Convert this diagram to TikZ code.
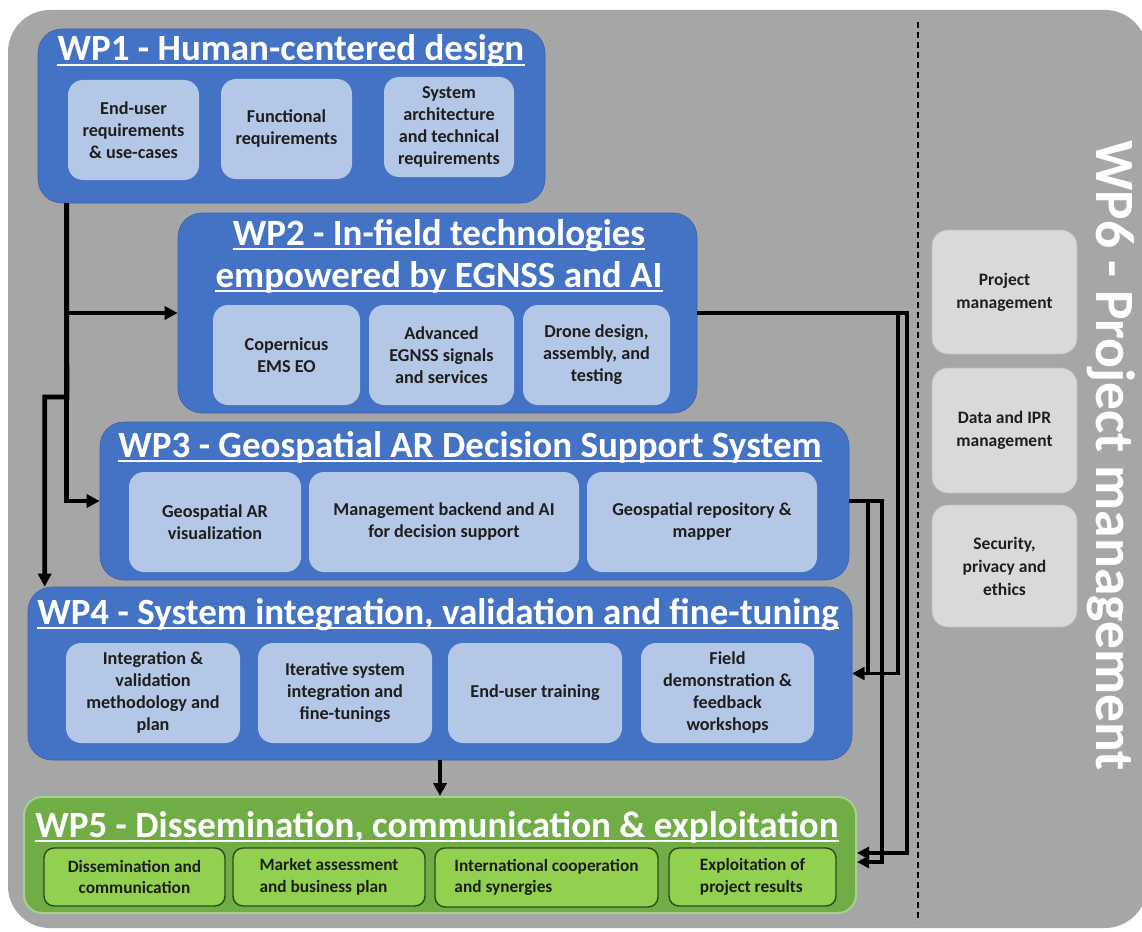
\documentclass[tikz,border=0pt]{standalone}
\usepackage{fontspec}
\setmainfont{Carlito}
\usetikzlibrary{arrows.meta}
\definecolor{bggray}{HTML}{A6A6A6}
\definecolor{wpblue}{HTML}{4472C4}
\definecolor{subblue}{HTML}{B4C7E7}
\definecolor{pmgray}{HTML}{D9D9D9}
\definecolor{pmborder}{HTML}{BFBFBF}
\definecolor{wpgreen}{HTML}{70AD47}
\definecolor{greenborder}{HTML}{A9D18E}
\definecolor{subgreen}{HTML}{92D050}
\definecolor{darkgreen}{HTML}{2E4A1C}
\definecolor{txt}{HTML}{1E1E1E}
\newcommand\mkbox[7]{\node[#6, minimum width={#4-#2}, minimum height={#5-#3}] (#1) at ({(#2+#4)/2},{(#3+#5)/2}) {#7};}
\begin{document}
\begin{tikzpicture}[x=1pt,y=-1pt,
  wpbox/.style={rectangle, rounded corners=24pt, fill=wpblue, draw=wpblue!85!black, line width=0.6pt, inner sep=0pt},
  subbox/.style={rectangle, rounded corners=15pt, fill=subblue, inner sep=2pt, align=center, text=txt, font=\bfseries\fontsize{18.2}{22}\selectfont},
  pmbox/.style={rectangle, rounded corners=16pt, fill=pmgray, draw=pmborder, line width=0.6pt, inner sep=2pt, align=center, text=txt, font=\bfseries\fontsize{17.5}{23}\selectfont},
  greenbox/.style={rectangle, rounded corners=18pt, fill=wpgreen, draw=greenborder, line width=2pt, inner sep=0pt},
  gsub/.style={rectangle, rounded corners=10pt, fill=subgreen, draw=darkgreen, line width=1.4pt, inner sep=2pt, text=txt, font=\bfseries\fontsize{17.3}{21.5}\selectfont},
  wptitle/.style={anchor=base, inner sep=0pt, text=white, font=\bfseries\fontsize{37}{40}\selectfont},
  uline/.style={white, line width=2pt},
  conn/.style={line width=4.6pt, -{Triangle[length=13pt,width=13pt]}},
  connr/.style={line width=3.6pt, -{Triangle[length=12pt,width=12pt]}},
  dashline/.style={line width=2pt, dash pattern=on 6pt off 4pt}
]
\useasboundingbox (0,0) rectangle (1142,931);
\fill[white] (0,0) rectangle (1142,931);
\fill[bggray, rounded corners=42pt] (8,10) rectangle (1147,928);

% dashed separator
\coordinate (d1) at (918,22);
\coordinate (d2) at (918,922);
\draw[dashline] (d1) -- (d2);

% WP1
\mkbox{wp1}{38}{29}{545}{203}{wpbox}{}
\mkbox{s11}{68}{80}{199}{180}{subbox}{End-user\\requirements\\\& use-cases}
\mkbox{s12}{221}{79}{352}{179}{subbox}{Functional\\requirements}
\mkbox{s13}{384}{77}{514}{177}{subbox}{System\\architecture\\and technical\\requirements}
\node[wptitle] (t1) at (291,61) {WP1 - Human-centered design};
\draw[uline] ([yshift=-4pt]t1.base west) -- ([yshift=-4pt]t1.base east);

% WP2
\mkbox{wp2}{178}{213}{697}{413}{wpbox}{}
\mkbox{s21}{213}{305}{360}{405}{subbox}{Copernicus\\EMS EO}
\mkbox{s22}{369}{305}{514}{405}{subbox}{Advanced\\EGNSS signals\\and services}
\mkbox{s23}{523}{305}{670}{405}{subbox}{Drone design,\\assembly, and\\testing}
\node[wptitle] (t2a) at (439,245) {WP2 - In-field technologies};
\draw[uline] ([yshift=-4pt]t2a.base west) -- ([yshift=-4pt]t2a.base east);
\node[wptitle] (t2b) at (439,287) {empowered by EGNSS and AI};
\draw[uline] ([yshift=-4pt]t2b.base west) -- ([yshift=-4pt]t2b.base east);

% WP3
\mkbox{wp3}{100}{422}{849}{580}{wpbox}{}
\mkbox{s31}{129}{472}{301}{572}{subbox}{Geospatial AR\\visualization}
\mkbox{s32}{309}{472}{579}{572}{subbox}{Management backend and AI\\for decision support}
\mkbox{s33}{587}{472}{817}{572}{subbox}{Geospatial repository \&\\mapper}
\node[wptitle] (t3) at (470,457) {WP3 - Geospatial AR Decision Support System};
\draw[uline] ([yshift=-4pt]t3.base west) -- ([yshift=-4pt]t3.base east);

% WP4
\mkbox{wp4}{28}{587}{852}{760}{wpbox}{}
\mkbox{s41}{66}{643}{240}{743}{subbox}{Integration \&\\validation\\methodology and\\plan}
\mkbox{s42}{258}{643}{432}{743}{subbox}{Iterative system\\integration and\\fine-tunings}
\mkbox{s43}{448}{643}{622}{743}{subbox}{End-user training}
\mkbox{s44}{641}{643}{814}{743}{subbox}{Field\\demonstration \&\\feedback\\workshops}
\node[wptitle] (t4) at (438,624) {WP4 - System integration, validation and fine-tuning};
\draw[uline] ([yshift=-4pt]t4.base west) -- ([yshift=-4pt]t4.base east);

% WP5
\mkbox{wp5}{24}{797}{856}{913}{greenbox}{}
\mkbox{s51}{44}{848}{225}{906}{gsub, align=center}{Dissemination and\\communication}
\mkbox{s52}{233}{848}{425}{906}{gsub, align=left}{Market assessment\\and business plan}
\mkbox{s53}{435}{848}{658}{907}{gsub, align=left}{International cooperation\\and synergies}
\mkbox{s54}{669}{848}{836}{906}{gsub, align=left}{Exploitation of\\project results}
\node[wptitle] (t5) at (437,837) {WP5 - Dissemination, communication \& exploitation};
\draw[uline] ([yshift=-4pt]t5.base west) -- ([yshift=-4pt]t5.base east);

% WP6
\mkbox{p1}{932}{230}{1077}{354}{pmbox}{Project\\management}
\mkbox{p2}{932}{368}{1077}{493}{pmbox}{Data and IPR\\management}
\mkbox{p3}{932}{505}{1077}{627}{pmbox}{Security,\\privacy and\\ethics}
\node[rotate=-90, anchor=base west, inner sep=0pt, text=white, font=\bfseries\fontsize{55.5}{58}\selectfont] (t6) at (1096,140) {WP6 - Project management};

% left connectors
\coordinate (s1) at ([xshift=29pt]wp1.south west);
\coordinate (j1) at (67,397);
\coordinate (e4) at ([xshift=17pt]wp4.north west);
\draw[conn] (s1) |- (wp2.west);
\draw[conn] (s1) |- (wp3.west);
\draw[conn] (s1) -- (j1) -| (e4);

% WP4 -> WP5
\draw[conn] (wp4.south) -- (wp5.north);

% right connectors
\coordinate (v1) at (898,0);
\coordinate (v2) at (907,0);
\coordinate (v3) at (868,0);
\coordinate (v4) at (882,0);
\coordinate (p5a) at ([yshift=2pt]wp5.east);
\coordinate (p5b) at ([yshift=-7pt]wp5.east);
\draw[connr] (wp2.east) -| (v1 |- wp4.east) -- (wp4.east);
\draw[connr] (wp2.east) -| (v2 |- p5a) -- (p5a);
\draw[connr] (wp3.east) -| (v3 |- wp4.east) -- (wp4.east);
\draw[connr] (wp3.east) -| (v4 |- p5b) -- (p5b);
\end{tikzpicture}
\end{document}
